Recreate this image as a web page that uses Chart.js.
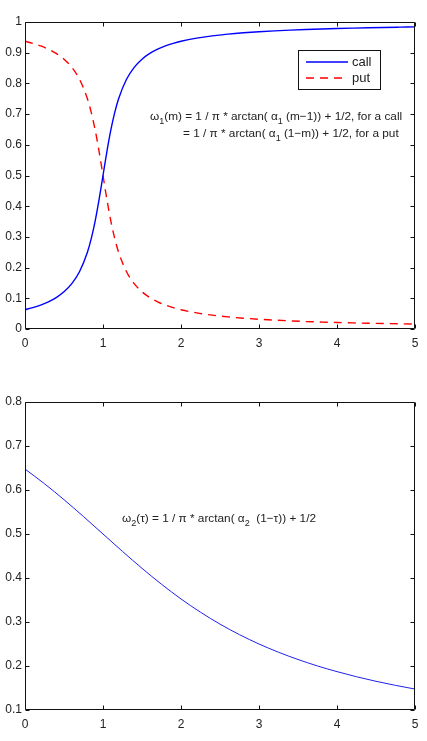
<!DOCTYPE html>
<html><head><meta charset="utf-8">
<script src="https://cdn.jsdelivr.net/npm/chart.js@4.4.1/dist/chart.umd.min.js"></script>
<style>
html,body{margin:0;padding:0;background:#fff;width:427px;height:741px;overflow:hidden}
#c1{position:absolute;left:0;top:0}
#c2{position:absolute;left:0;top:370px}
</style></head><body>
<canvas id="c1" width="427" height="370"></canvas>
<canvas id="c2" width="427" height="371"></canvas>
<script>
// ---- data ----
const mValues = [0,0.1,0.2,0.3,0.4,0.5,0.6,0.7,0.8,0.85,0.9,0.95,1.0,1.05,1.1,1.15,1.2,1.3,1.4,1.5,1.6,1.7,1.8,1.9,2.0,2.2,2.4,2.6,2.8,3.0,3.2,3.4,3.6,3.8,4.0,4.2,4.4,4.6,4.8,5.0];
const callValues = [0.0628,0.0696,0.0780,0.0886,0.1024,0.1211,0.1476,0.1872,0.2500,0.2952,0.3524,0.4220,0.5000,0.5780,0.6476,0.7048,0.7500,0.8128,0.8524,0.8789,0.8976,0.9114,0.9220,0.9304,0.9372,0.9474,0.9548,0.9604,0.9648,0.9683,0.9711,0.9735,0.9756,0.9773,0.9788,0.9801,0.9813,0.9823,0.9832,0.9841];
const putValues = [0.9372,0.9304,0.9220,0.9114,0.8976,0.8789,0.8524,0.8128,0.7500,0.7048,0.6476,0.5780,0.5000,0.4220,0.3524,0.2952,0.2500,0.1872,0.1476,0.1211,0.1024,0.0886,0.0780,0.0696,0.0628,0.0526,0.0452,0.0396,0.0352,0.0317,0.0289,0.0265,0.0244,0.0227,0.0212,0.0199,0.0187,0.0177,0.0168,0.0159];
const tauValues = [0,0.25,0.5,0.75,1,1.25,1.5,1.75,2,2.25,2.5,2.75,3,3.25,3.5,3.75,4,4.25,4.5,4.75,5];
const omega2Values = [0.6476,0.6142,0.5780,0.5396,0.5000,0.4604,0.4220,0.3858,0.3524,0.3222,0.2952,0.2712,0.2500,0.2313,0.2148,0.2001,0.1872,0.1756,0.1652,0.1560,0.1476];
const xTicks = [0,1,2,3,4,5];
const yTicksTop = [0,0.1,0.2,0.3,0.4,0.5,0.6,0.7,0.8,0.9,1];
const yTickLabelsTop = ['0','0.1','0.2','0.3','0.4','0.5','0.6','0.7','0.8','0.9','1'];
const yTicksBottom = [0.1,0.2,0.3,0.4,0.5,0.6,0.7,0.8];
const yTickLabelsBottom = ['0.1','0.2','0.3','0.4','0.5','0.6','0.7','0.8'];
const seriesLabels = ['call','put'];

const FONT = '"Liberation Sans", Arial, Helvetica, sans-serif';
const TXT = '#222';

function pts(xs, ys){ return xs.map((x,i)=>({x:x, y:ys[i]})); }

const boxTicks = {
  id:'boxTicks',
  afterDatasetsDraw(chart){
    const {ctx, chartArea:a, scales:{x,y}} = chart;
    ctx.save();
    ctx.strokeStyle='#111'; ctx.lineWidth=1;
    const L=Math.round(a.left)+0.5, R=Math.round(a.right)-0.5, T=Math.round(a.top)+0.5, B=Math.round(a.bottom)-0.5;
    ctx.beginPath();
    ctx.rect(L,T,R-L,B-T);
    const tl=4;
    x.ticks.forEach(t=>{const p=Math.round(x.getPixelForValue(t.value))+0.5; ctx.moveTo(p,B); ctx.lineTo(p,B-tl); ctx.moveTo(p,T); ctx.lineTo(p,T+tl);});
    y.ticks.forEach(t=>{const p=Math.round(y.getPixelForValue(t.value))+0.5; ctx.moveTo(L,p); ctx.lineTo(L+tl,p); ctx.moveTo(R,p); ctx.lineTo(R-tl,p);});
    ctx.stroke();
    ctx.restore();
  }
};

function drawRich(ctx, x, y, parts, size){
  let cx = x;
  ctx.textBaseline='middle'; ctx.textAlign='left'; ctx.fillStyle=TXT;
  parts.forEach(p=>{
    const sub = Array.isArray(p);
    const t = sub ? p[0] : p;
    ctx.font = (sub ? Math.round(size*0.8) : size) + 'px ' + FONT;
    ctx.fillText(t, cx, sub ? y+5 : y);
    cx += ctx.measureText(t).width;
  });
}

function makeScales(yTicks, yLabels, ymin, ymax, xh){
  return {
    x:{type:'linear', min:0, max:5,
      afterBuildTicks:s=>{s.ticks = xTicks.map(v=>({value:v}));},
      afterFit:s=>{s.height = xh;},
      grid:{display:false, drawTicks:false}, border:{display:false},
      ticks:{color:TXT, font:{family:FONT, size:12}, padding:7, maxRotation:0, autoSkip:false,
        callback:(v)=>String(v)}},
    y:{type:'linear', min:ymin, max:ymax,
      afterBuildTicks:s=>{s.ticks = yTicks.map(v=>({value:v}));},
      afterFit:s=>{s.width = 25;},
      grid:{display:false, drawTicks:false}, border:{display:false},
      ticks:{color:TXT, font:{family:FONT, size:12}, padding:3, autoSkip:false,
        callback:(v)=>{const i=yTicks.findIndex(t=>Math.abs(t-v)<1e-9); return i>=0?yLabels[i]:'';}}}
  };
}

const topOverlay = {
  id:'topOverlay',
  afterDraw(chart){
    const {ctx, chartArea:a} = chart;
    ctx.save();
    // legend
    const lx = a.right-117, ly = a.top+28, lw = 82, lh = 39;
    ctx.fillStyle='#fff'; ctx.fillRect(lx,ly,lw,lh);
    ctx.strokeStyle='#111'; ctx.lineWidth=1;
    ctx.strokeRect(Math.round(lx)+0.5, Math.round(ly)+0.5, lw, lh);
    chart.data.datasets.forEach((ds,i)=>{
      const yy = ly + 12 + i*16;
      ctx.beginPath();
      ctx.strokeStyle = ds.borderColor; ctx.lineWidth = ds.borderWidth;
      ctx.setLineDash(ds.borderDash || []);
      ctx.moveTo(lx+8, yy); ctx.lineTo(lx+50, yy); ctx.stroke();
      ctx.setLineDash([]);
      ctx.fillStyle=TXT; ctx.font='13px '+FONT; ctx.textBaseline='middle'; ctx.textAlign='left';
      ctx.fillText(ds.label, lx+54, yy);
    });
    // formula text
    drawRich(ctx, a.left+125, a.top+95, ['ω',['1'],'(m) = 1 / π * arctan( α',['1'],' (m−1)) + 1/2, for a call'], 11.8);
    drawRich(ctx, a.left+158, a.top+112, ['= 1 / π * arctan( α',['1'],' (1−m)) + 1/2, for a put'], 11.8);
    ctx.restore();
  }
};

const bottomOverlay = {
  id:'bottomOverlay',
  afterDraw(chart){
    const {ctx, chartArea:a} = chart;
    ctx.save();
    drawRich(ctx, a.left+97, a.top+117, ['ω',['2'],'(τ) = 1 / π * arctan( α',['2'],'  (1−τ)) + 1/2'], 11.8);
    ctx.restore();
  }
};

new Chart(document.getElementById('c1'), {
  type:'line',
  data:{datasets:[
    {label:seriesLabels[0], data:pts(mValues, callValues), borderColor:'#0000ff', borderWidth:1.4, pointRadius:0, cubicInterpolationMode:'monotone', fill:false},
    {label:seriesLabels[1], data:pts(mValues, putValues), borderColor:'#ff0000', borderWidth:1.4, borderDash:[8,6], pointRadius:0, cubicInterpolationMode:'monotone', fill:false}
  ]},
  options:{responsive:false, animation:false, events:[],
    layout:{padding:{left:0, right:12, top:22, bottom:0}},
    plugins:{legend:{display:false}, tooltip:{enabled:false}},
    scales:makeScales(yTicksTop, yTickLabelsTop, 0, 1, 370-329)
  },
  plugins:[boxTicks, topOverlay]
});

new Chart(document.getElementById('c2'), {
  type:'line',
  data:{datasets:[
    {label:'omega2', data:pts(tauValues, omega2Values), borderColor:'#2020ee', borderWidth:1, pointRadius:0, cubicInterpolationMode:'monotone', fill:false}
  ]},
  options:{responsive:false, animation:false, events:[],
    layout:{padding:{left:0, right:12, top:32, bottom:0}},
    plugins:{legend:{display:false}, tooltip:{enabled:false}},
    scales:makeScales(yTicksBottom, yTickLabelsBottom, 0.1, 0.8, 371-340)
  },
  plugins:[boxTicks, bottomOverlay]
});
</script>
</body></html>
